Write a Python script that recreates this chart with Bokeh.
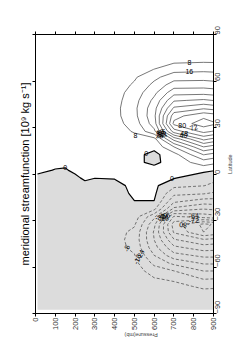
import math
import numpy as np
from bokeh.plotting import figure
from bokeh.models import LinearAxis, FixedTicker, Title, Range1d, ColumnDataSource, CustomJSTickFormatter
from bokeh.embed import file_html
from bokeh.resources import INLINE
from bokeh.core.properties import value

# ---- data ----
pressure = [10, 100, 150, 200, 250, 300, 400, 500, 600, 700, 850, 925]
latitude = [-87.5, -82.5, -77.5, -72.5, -67.5, -62.5, -57.5, -52.5, -47.5, -42.5,
            -37.5, -32.5, -27.5, -22.5, -17.5, -12.5, -7.5, -2.5,
            2.5, 7.5, 12.5, 17.5, 22.5, 27.5, 32.5, 37.5, 42.5, 47.5,
            52.5, 57.5, 62.5, 67.5, 72.5, 77.5, 82.5, 87.5]

psi_10 = [-0.2, -0.4, -0.6, -0.8, -1.0, -1.1, -1.2, -1.3, -1.3, -1.3, -1.3, -1.2, -1.2, -1.1, -1.0, -0.9, -0.8, -0.5,
          0.5, 0.8, 1.0, 1.1, 1.2, 1.2, 1.2, 1.2, 1.1, 1.0, 0.9, 0.8, 0.7, 0.6, 0.5, 0.4, 0.3, 0.1]
psi_100 = [-0.3, -0.6, -0.9, -1.2, -1.5, -1.7, -1.8, -1.9, -2.0, -2.0, -2.0, -1.9, -1.8, -1.7, -1.6, -1.4, -1.2, -1.0,
           -0.1, 0.6, 1.2, 1.5, 1.7, 1.8, 1.8, 1.8, 1.7, 1.6, 1.4, 1.2, 1.0, 0.9, 0.7, 0.5, 0.3, 0.1]
psi_150 = [-0.3, -0.7, -1.0, -1.3, -1.6, -1.8, -2.0, -2.1, -2.2, -2.2, -2.2, -2.1, -2.0, -1.9, -1.8, -1.6, -1.4, -1.0,
           -0.3, 0.7, 1.3, 1.7, 2.0, 2.1, 2.1, 2.1, 2.0, 1.8, 1.6, 1.4, 1.2, 1.0, 0.8, 0.6, 0.4, 0.1]
psi_200 = [-0.3, -0.7, -1.1, -1.4, -1.7, -1.9, -2.1, -2.2, -2.3, -2.3, -2.3, -2.2, -2.1, -2.0, -1.8, -1.6, -1.3, -0.7,
           0.7, 1.3, 1.7, 2.0, 2.2, 2.3, 2.4, 2.4, 2.3, 2.1, 1.9, 1.7, 1.4, 1.2, 1.0, 0.7, 0.4, 0.1]
psi_250 = [-0.3, -0.7, -1.1, -1.5, -1.8, -2.0, -2.2, -2.3, -2.4, -2.4, -2.4, -2.3, -2.2, -2.0, -1.8, -1.5, -1.0, 0.6,
           1.0, 1.5, 1.9, 2.2, 2.4, 2.6, 2.7, 2.7, 2.6, 2.4, 2.2, 1.9, 1.6, 1.3, 1.1, 0.8, 0.5, 0.1]
psi_300 = [-0.3, -0.8, -1.2, -1.6, -1.9, -2.2, -2.4, -2.6, -2.7, -2.8, -2.7, -2.6, -2.4, -2.2, -1.9, -1.5, -1.0, 0.05,
           0.8, 1.5, 2.0, 2.3, 2.6, 2.8, 3.0, 3.0, 3.0, 2.8, 2.5, 2.2, 2.0, 1.8, 1.5, 1.1, 0.7, 0.2]
psi_400 = [-0.3, -0.8, -1.4, -2.0, -2.6, -3.2, -3.8, -4.3, -4.8, -5.0, -4.8, -4.3, -3.8, -3.3, -2.8, -2.0, -1.2, 0.25,
           0.8, 1.5, 2.0, 2.5, 3.2, 4.2, 5.0, 5.5, 5.5, 5.0, 4.5, 4.0, 3.5, 3.0, 2.5, 1.8, 1.0, 0.3]
psi_500 = [-0.2, -0.7, -1.3, -2.0, -3.0, -4.0, -5.5, -7.5, -10.0, -11.0, -10.0, -7.0, -4.0, -2.0, -0.05, 0.8, 1.0, 0.8,
           1.0, 1.5, 2.0, 3.0, 5.0, 8.8, 11.5, 13.5, 14.0, 13.0, 11.5, 9.0, 7.0, 5.0, 3.5, 2.0, 1.0, 0.3]
psi_600 = [-0.4, -1.2, -2.5, -4.5, -7.5, -12.0, -18.0, -24.0, -29.0, -32.0, -33.0, -30.0, -22.0, -6.0, -0.1, 1.5, 1.6, 1.5,
           2.5, -1.5, -2.0, 2.0, 5.0, 22.0, 28.0, 30.0, 29.0, 26.0, 22.0, 18.0, 14.0, 8.1, 5.0, 3.0, 1.5, 0.5]
psi_700 = [-0.5, -1.5, -3.0, -5.5, -9.5, -16.0, -26.0, -37.0, -46.0, -55.0, -65.0, -68.0, -57.0, -34.0, -22.0, -14.0, -6.0, 0.67,
           2.9, 3.0, 5.0, 16.0, 35.0, 60.0, 74.0, 69.0, 57.3, 47.0, 37.0, 28.0, 20.3, 13.2, 6.7, 3.5, 1.5, 0.5]
psi_850 = [-1.0, -2.5, -5.0, -9.5, -16.6, -24.2, -33.0, -42.0, -52.0, -62.9, -80.0, -82.0, -52.3, -39.7, -27.5, -15.2, -7.8, -5.6,
           2.4, 12.0, 24.3, 40.0, 58.0, 74.4, 84.0, 78.0, 62.7, 49.3, 37.3, 28.4, 20.7, 14.0, 7.4, 4.0, 2.0, 0.5]
psi_925 = [-1.0, -2.5, -5.0, -9.0, -16.0, -24.0, -33.0, -42.0, -51.0, -61.0, -76.0, -78.0, -50.0, -38.0, -27.0, -18.0, -10.0, -7.0,
           -0.1, 9.0, 20.0, 35.0, 52.0, 70.0, 80.0, 75.0, 60.0, 47.0, 36.0, 27.0, 20.0, 13.5, 7.2, 4.0, 2.0, 0.5]

pos_levels = [8, 16, 24, 32, 40, 48, 56, 64, 72, 80]
neg_levels = [-88, -80, -72, -64, -56, -48, -40, -32, -24, -16, -8]

pressure_ticks = [0, 100, 200, 300, 400, 500, 600, 700, 800, 900]
latitude_ticks = [-90, -60, -30, 0, 30, 60, 90]

label_text = ["8", "16", "80", "72", "8", "8", "16", "24", "32", "40", "48", "56", "64",
              "0", "0", "0",
              "-8", "-16", "-24", "-32", "-40", "-48", "-56", "-64", "-72", "-80"]
label_p = [778, 778, 742, 800, 505, 622, 630, 628, 636, 748, 752, 640, 645,
           150, 560, 690,
           462, 515, 530, 630, 640, 648, 655, 800, 800, 752]
label_lat = [72, 66, 31, 30, 25, 26, 27, 25, 26, 25, 26, 27, 25,
             4, 13.5, -3,
             -48, -55, -52, -28, -27, -29, -27, -27, -30, -33]
label_angle = [0, 0, 0, 0.3, 0, 0.2, 0.3, 0.1, 0.4, 0, 0, 0.2, 0.3,
               0, 0, 0,
               1.3, 1.2, 1.1, 0.2, 0.1, 0.3, 0.2, 0.1, 0, 3.1]

rows = [psi_10, psi_100, psi_150, psi_200, psi_250, psi_300, psi_400,
        psi_500, psi_600, psi_700, psi_850, psi_925]
Z = np.array(rows, dtype=float).T
X = np.array(pressure, dtype=float)
Y = np.array(latitude, dtype=float)

FONT = "Liberation Sans"
TITLE = "meridional streamfunction [10\u2079 kg s\u207b\u00b9]"

p = figure(width=241, height=344,
           x_range=Range1d(0, 900), y_range=Range1d(-90, 90),
           x_axis_type=None, y_axis_type=None,
           output_backend="svg", toolbar_location=None,
           min_border_left=35, min_border_right=28, min_border_top=34, min_border_bottom=28,
           background_fill_color="white", border_fill_color="white")
p.outline_line_color = "black"

p.contour(X, Y, Z, levels=[-200, 0], fill_color="#dcdcdc", line_color=None)
p.contour(X, Y, Z, levels=neg_levels, fill_color=None, line_color="#555555",
          line_width=0.8, line_dash="3 2")
p.contour(X, Y, Z, levels=pos_levels, fill_color=None, line_color="#555555",
          line_width=0.8)
p.contour(X, Y, Z, levels=[0, 500], fill_color=None, line_color="black",
          line_width=1.2)

src = ColumnDataSource(dict(t=label_text, x=label_p, y=label_lat, a=label_angle))
p.text(x="x", y="y", text="t", angle="a", source=src, text_font=value(FONT),
       text_font_size="7px", text_color="black", text_align="center",
       text_baseline="middle")

blank = CustomJSTickFormatter(code="return ''")

def style(ax, labels=True):
    ax.major_tick_in = 0
    ax.major_tick_out = 3
    ax.minor_tick_line_color = None
    ax.axis_line_color = "black"
    ax.major_tick_line_color = "black"
    ax.major_label_text_font = FONT
    ax.major_label_text_color = "#333333"
    ax.major_label_standoff = 1
    ax.major_label_text_font_size = "7.5px"
    if not labels:
        ax.formatter = blank
        ax.major_label_standoff = 0

bottom = LinearAxis(ticker=FixedTicker(ticks=pressure_ticks), axis_label="Pressure(mb)",
                    major_label_orientation=math.pi / 2)
style(bottom)
bottom.axis_label_text_font = FONT
bottom.axis_label_text_font_size = "5.5px"
bottom.axis_label_text_font_style = "normal"
bottom.axis_label_standoff = 2
bottom.axis_label_orientation = math.pi
p.add_layout(bottom, "below")

top = LinearAxis(ticker=FixedTicker(ticks=pressure_ticks))
style(top, labels=False)
p.add_layout(top, "above")

right = LinearAxis(ticker=FixedTicker(ticks=latitude_ticks), axis_label="Latitude",
                   major_label_orientation=math.pi / 2)
style(right)
right.axis_label_text_font = FONT
right.axis_label_text_font_size = "5.5px"
right.axis_label_text_font_style = "normal"
right.axis_label_standoff = 4
right.axis_label_orientation = math.pi / 2
p.add_layout(right, "right")

left = LinearAxis(ticker=FixedTicker(ticks=latitude_ticks))
style(left, labels=False)
p.add_layout(left, "left")

title = Title(text=TITLE, align="center",
              text_font=FONT, text_font_size="11px", text_font_style="normal",
              text_color="black", standoff=4)
p.add_layout(title, "left")

open("out.html", "w").write(file_html(p, INLINE))
